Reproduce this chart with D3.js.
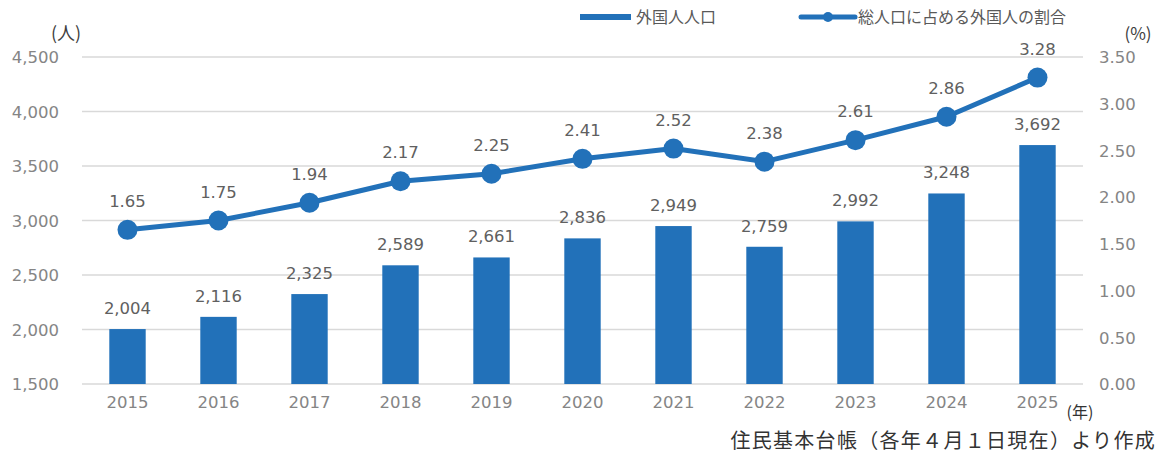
<!DOCTYPE html>
<html>
<head>
<meta charset="utf-8">
<script src="https://cdn.jsdelivr.net/npm/d3@7"></script>
<style>
  body { margin: 0; background: #fff; }
  svg text { font-family: "Noto Sans CJK JP", "Noto Sans", sans-serif; }
  svg text.num { font-family: "DejaVu Sans", sans-serif; }
</style>
</head>
<body>
<div id="chart"></div>
<script>
var years = ["2015","2016","2017","2018","2019","2020","2021","2022","2023","2024","2025"];
var foreigners = [2004, 2116, 2325, 2589, 2661, 2836, 2949, 2759, 2992, 3248, 3692];
var ratio = [1.65, 1.75, 1.94, 2.17, 2.25, 2.41, 2.52, 2.38, 2.61, 2.86, 3.28];
var leftTicks = [1500, 2000, 2500, 3000, 3500, 4000, 4500];
var rightTicks = [0, 0.5, 1, 1.5, 2, 2.5, 3, 3.5];

var width = 1163, height = 453;
var margin = {top: 57, right: 80, bottom: 69, left: 82};
var blue = "#2271b9";

var svg = d3.select("#chart").append("svg")
    .attr("width", width)
    .attr("height", height);

var x = d3.scaleBand()
    .domain(years)
    .range([margin.left, width - margin.right])
    .paddingInner(0.6)
    .paddingOuter(0.3);

var yL = d3.scaleLinear()
    .domain([1500, 4500])
    .range([height - margin.bottom, margin.top]);

var yR = d3.scaleLinear()
    .domain([0, 3.5])
    .range([height - margin.bottom, margin.top]);

// grid
svg.append("g")
    .selectAll("line")
    .data(leftTicks)
  .enter().append("line")
    .attr("x1", margin.left)
    .attr("x2", width - margin.right)
    .attr("y1", function(d) { return yL(d); })
    .attr("y2", function(d) { return yL(d); })
    .attr("stroke", "#d9d9d9")
    .attr("stroke-width", 1.5);

// left axis
var axL = svg.append("g")
    .attr("transform", "translate(" + (margin.left - 20) + ",0)")
    .call(d3.axisLeft(yL).tickValues(leftTicks).tickSize(0).tickFormat(d3.format(",")));
axL.select(".domain").remove();
axL.selectAll("text").attr("class", "num").attr("fill", "#858585").style("font-size", "16.5px").attr("dy", "0.35em");

// right axis
var axR = svg.append("g")
    .attr("transform", "translate(" + (width - margin.right + 13) + ",0)")
    .call(d3.axisRight(yR).tickValues(rightTicks).tickSize(0).tickFormat(d3.format(".2f")));
axR.select(".domain").remove();
axR.selectAll("text").attr("class", "num").attr("fill", "#858585").style("font-size", "16.5px").attr("dy", "0.35em");

// bottom axis
var axB = svg.append("g")
    .attr("transform", "translate(0," + (height - margin.bottom + 8) + ")")
    .call(d3.axisBottom(x).tickSize(0));
axB.select(".domain").remove();
axB.selectAll("text").attr("class", "num").attr("fill", "#858585").style("font-size", "16.5px").attr("dy", "0.8em");

// bars
svg.selectAll(".bar")
    .data(foreigners)
  .enter().append("rect")
    .attr("class", "bar")
    .attr("x", function(d, i) { return x(years[i]); })
    .attr("width", x.bandwidth())
    .attr("y", function(d) { return yL(d); })
    .attr("height", function(d) { return yL(1500) - yL(d); })
    .attr("fill", blue);

svg.selectAll(".barLabel")
    .data(foreigners)
  .enter().append("text")
    .attr("class", "num")
    .attr("x", function(d, i) { return x(years[i]) + x.bandwidth() / 2; })
    .attr("y", function(d) { return yL(d) - 15; })
    .attr("text-anchor", "middle")
    .attr("fill", "#606060")
    .style("font-size", "16.5px")
    .text(function(d) { return d3.format(",")(d); });

// line
var line = d3.line()
    .x(function(d, i) { return x(years[i]) + x.bandwidth() / 2; })
    .y(function(d) { return yR(d); });

svg.append("path")
    .datum(ratio)
    .attr("d", line)
    .attr("fill", "none")
    .attr("stroke", blue)
    .attr("stroke-width", 5)
    .attr("stroke-linejoin", "round");

svg.selectAll(".dot")
    .data(ratio)
  .enter().append("circle")
    .attr("cx", function(d, i) { return x(years[i]) + x.bandwidth() / 2; })
    .attr("cy", function(d) { return yR(d); })
    .attr("r", 10)
    .attr("fill", blue);

svg.selectAll(".lineLabel")
    .data(ratio)
  .enter().append("text")
    .attr("class", "num")
    .attr("x", function(d, i) { return x(years[i]) + x.bandwidth() / 2; })
    .attr("y", function(d) { return yR(d) - 23; })
    .attr("text-anchor", "middle")
    .attr("fill", "#606060")
    .style("font-size", "16.5px")
    .text(function(d) { return d3.format(".2f")(d); });

// unit labels
svg.append("text").attr("x", 66).attr("y", 40).attr("text-anchor", "middle")
    .attr("fill", "#404040").style("font-size", "18px").text("(人)");
svg.append("text").attr("x", 1138).attr("y", 40).attr("text-anchor", "middle")
    .attr("fill", "#404040").style("font-size", "17px").text("(%)");
svg.append("text").attr("x", 1080).attr("y", 418).attr("text-anchor", "middle")
    .attr("fill", "#333").style("font-size", "16px").text("(年)");

// source
svg.append("text").attr("x", 1156).attr("y", 448).attr("text-anchor", "end")
    .attr("fill", "#333").style("font-size", "20px").style("letter-spacing", "1.3px")
    .text("住民基本台帳（各年４月１日現在）より作成");

// legend
var lg = svg.append("g");
lg.append("rect").attr("x", 580).attr("y", 14).attr("width", 51).attr("height", 6).attr("fill", blue);
lg.append("text").attr("x", 636).attr("y", 23).attr("fill", "#595959").style("font-size", "16px").text("外国人人口");
lg.append("line").attr("x1", 801).attr("x2", 855).attr("y1", 17).attr("y2", 17)
    .attr("stroke", blue).attr("stroke-width", 5).attr("stroke-linecap", "round");
lg.append("circle").attr("cx", 828).attr("cy", 17).attr("r", 5).attr("fill", blue);
lg.append("text").attr("x", 858).attr("y", 23).attr("fill", "#595959").style("font-size", "16px").text("総人口に占める外国人の割合");
</script>
</body>
</html>
